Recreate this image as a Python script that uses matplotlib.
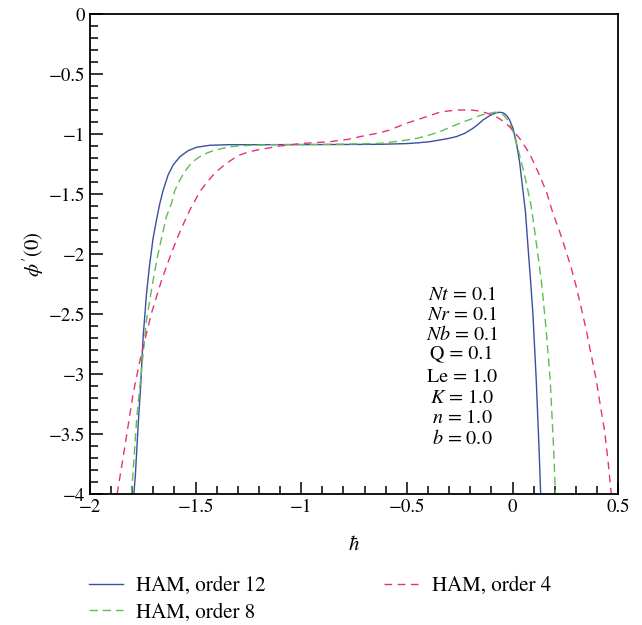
import numpy as np
import matplotlib
matplotlib.use("Agg")
import matplotlib.pyplot as plt

plt.rcParams["font.family"] = "STIXGeneral"
plt.rcParams["mathtext.fontset"] = "stix"

# ---- data ----
x_o12 = [-1.792, -1.785, -1.779, -1.770, -1.760, -1.748, -1.732, -1.718, -1.701, -1.685,
         -1.669, -1.653, -1.630, -1.606, -1.574, -1.535, -1.496, -1.433, -1.338, -1.149,
         -0.900, -0.629, -0.503, -0.450, -0.392, -0.345, -0.306, -0.266, -0.225, -0.188,
         -0.160, -0.140, -0.115, -0.093, -0.075, -0.061, -0.048, -0.038, -0.025, -0.014,
         0.002, 0.017, 0.033, 0.046, 0.061, 0.073, 0.085, 0.096, 0.112, 0.125, 0.133]
y_o12 = [-4.0, -3.85, -3.66, -3.38, -3.11, -2.69, -2.33, -2.10, -1.869, -1.717,
         -1.578, -1.467, -1.342, -1.258, -1.189, -1.139, -1.111, -1.094, -1.089, -1.089,
         -1.088, -1.086, -1.080, -1.074, -1.064, -1.050, -1.038, -1.022, -0.993, -0.953,
         -0.915, -0.883, -0.855, -0.833, -0.823, -0.819, -0.822, -0.831, -0.853, -0.883,
         -0.953, -1.064, -1.231, -1.425, -1.65, -1.94, -2.22, -2.49, -3.05, -3.61, -4.0]

x_o8 = [-1.803, -1.791, -1.779, -1.756, -1.732, -1.701, -1.680, -1.661, -1.638, -1.614,
        -1.598, -1.574, -1.550, -1.527, -1.505, -1.480, -1.450, -1.417, -1.385, -1.338,
        -1.275, -1.149, -0.900, -0.818, -0.700, -0.629, -0.550, -0.500, -0.450, -0.400,
        -0.345, -0.300, -0.251, -0.200, -0.156, -0.120, -0.085, -0.070, -0.054, -0.040,
        -0.022, 0.002, 0.025, 0.049, 0.067, 0.088, 0.104, 0.120, 0.136, 0.159,
        0.178, 0.194, 0.203]
y_o8 = [-4.0, -3.70, -3.38, -2.97, -2.55, -2.22, -2.02, -1.869, -1.69, -1.578,
        -1.47, -1.383, -1.31, -1.258, -1.22, -1.189, -1.162, -1.139, -1.125, -1.106,
        -1.097, -1.089, -1.087, -1.085, -1.081, -1.078, -1.062, -1.050, -1.035, -1.012,
        -0.981, -0.947, -0.911, -0.878, -0.847, -0.830, -0.819, -0.820, -0.828, -0.848,
        -0.883, -0.981, -1.119, -1.286, -1.425, -1.60, -1.80, -2.01, -2.22, -2.63,
        -3.05, -3.61, -4.0]

x_o4 = [-1.871, -1.835, -1.795, -1.756, -1.708, -1.661, -1.614, -1.574, -1.527, -1.480,
        -1.449, -1.417, -1.385, -1.354, -1.320, -1.291, -1.250, -1.200, -1.149, -1.100,
        -1.050, -1.007, -0.935, -0.865, -0.780, -0.708, -0.629, -0.582, -0.503, -0.440,
        -0.390, -0.345, -0.300, -0.251, -0.200, -0.156, -0.115, -0.077, -0.045, -0.014,
        0.033, 0.080, 0.120, 0.160, 0.191, 0.220, 0.246, 0.275, 0.301, 0.325,
        0.348, 0.372, 0.396, 0.415, 0.435, 0.452, 0.467]
y_o4 = [-4.0, -3.61, -3.16, -2.83, -2.49, -2.22, -1.99, -1.814, -1.633, -1.481,
        -1.41, -1.342, -1.29, -1.244, -1.205, -1.175, -1.15, -1.13, -1.115, -1.10,
        -1.09, -1.08, -1.072, -1.064, -1.045, -1.017, -0.99, -0.967, -0.911, -0.875,
        -0.845, -0.819, -0.807, -0.80, -0.80, -0.808, -0.83, -0.856, -0.893, -0.939,
        -1.036, -1.161, -1.314, -1.48, -1.661, -1.80, -1.939, -2.10, -2.27, -2.45,
        -2.63, -2.84, -3.05, -3.26, -3.47, -3.73, -4.0]

x_ticks = [-2, -1.5, -1, -0.5, 0, 0.5]
x_ticklabels = ["\u22122", "\u22121.5", "\u22121", "\u22120.5", "0", "0.5"]
y_ticks = [0, -0.5, -1, -1.5, -2, -2.5, -3, -3.5, -4]
y_ticklabels = ["0", "\u22120.5", "\u22121", "\u22121.5", "\u22122", "\u22122.5",
                "\u22123", "\u22123.5", "\u22124"]

params = [r"$Nt$ = 0.1", r"$Nr$ = 0.1", r"$Nb$ = 0.1", "Q = 0.1",
          "Le = 1.0", r"$K$ = 1.0", r"$n$ = 1.0", r"$b$ = 0.0"]

fig = plt.figure(figsize=(6.42, 6.25), dpi=100)
ax = fig.add_axes([0.140, 0.2096, 0.823, 0.768])

l1, = ax.plot(x_o12, y_o12, color="#3b4fa3", lw=1.0, label="HAM, order 12")
l2, = ax.plot(x_o8, y_o8, color="#5cc04e", lw=1.0, dashes=(6, 3.5), label="HAM, order 8")
l3, = ax.plot(x_o4, y_o4, color="#e8317c", lw=1.0, dashes=(5.5, 4), label="HAM, order 4")

ax.set_xlim(-2, 0.5)
ax.set_ylim(-4, 0)
ax.set_xticks(x_ticks)
ax.set_xticklabels(x_ticklabels)
ax.set_yticks(y_ticks)
ax.set_yticklabels(y_ticklabels)
ax.set_xticks(np.arange(-2, 0.51, 0.1), minor=True)
ax.set_yticks(np.arange(-4, 0.01, 0.1), minor=True)
ax.tick_params(which="both", direction="in", top=False, right=False, labelsize=13.5, width=1.1)
ax.tick_params(which="major", length=9)
ax.tick_params(which="minor", length=6)
for sp in ax.spines.values():
    sp.set_linewidth(1.3)

ax.set_xlabel(r"$\hbar$", fontsize=15, labelpad=14)
ax.set_ylabel(r"$\phi'(0)$", fontsize=15, labelpad=2)

ys = [295, 315, 335, 354, 377, 398, 418, 438]
for t, yp in zip(params, ys):
    fig.text(462 / 642, 1 - yp / 625, t, ha="center", va="center", fontsize=14.5)

fig.legend(handles=[l1, l2, l3], loc="upper left", bbox_to_anchor=(0.1257, 0.0906),
           borderaxespad=0, ncol=2, frameon=False, fontsize=15, handlelength=1.63,
           handletextpad=0.63, columnspacing=5.7, labelspacing=0.3)

fig.savefig("out.png", dpi=100)
